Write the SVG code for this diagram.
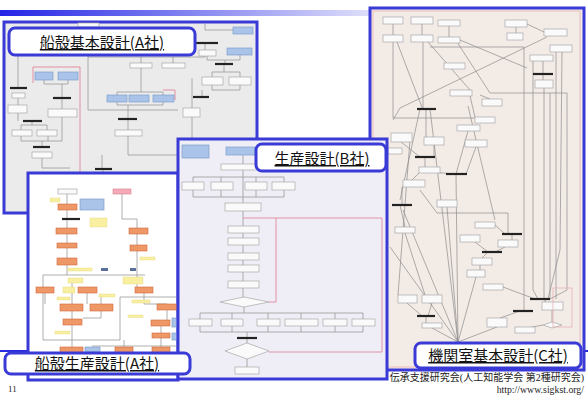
<svg xmlns="http://www.w3.org/2000/svg" width="588" height="396" viewBox="0 0 588 396">
<defs>
<linearGradient id="topbar" x1="0" y1="0" x2="1" y2="0">
<stop offset="0" stop-color="#2424e6"/>
<stop offset="0.62" stop-color="#dcdcfa"/>
<stop offset="0.75" stop-color="#ffffff"/>
</linearGradient>
<style>
.frame{stroke:#3a3ad6;stroke-width:3}
.lab{fill:#fff;stroke:#3a3ad6;stroke-width:3}
.lt{font-family:"Noto Sans CJK JP","Noto Sans CJK SC",sans-serif;font-size:15px;text-decoration:underline;text-anchor:middle;fill:#111}
.w{fill:#fafafa;stroke:#a8a8a8;stroke-width:.7}
.bl{fill:#a9c4e8;stroke:#7f9fcc;stroke-width:.7}
.db{fill:#5a6f9a;stroke:none}
.or{fill:#ee9868;stroke:#cf6a3c;stroke-width:.6}
.ye{fill:#f8f0a0;stroke:#e4d57a;stroke-width:.4}
.pk{fill:#f5aab8;stroke:#d88090;stroke-width:.6}
.ln{fill:none;stroke:#9a9a9a;stroke-width:.8}
.lc{fill:none;stroke:#8c8c8c;stroke-width:.7}
.rd{fill:none;stroke:#e07a90;stroke-width:.8}
.bar{stroke:#222;stroke-width:2.2}
.foot{font-family:"Liberation Serif",serif;fill:#222}
</style>
</defs>
<rect width="588" height="396" fill="#fff"/>
<rect x="0" y="10" width="588" height="6" fill="url(#topbar)"/>
<line x1="0" y1="351" x2="588" y2="351" stroke="#2a2ae0" stroke-width="2"/>
<text x="584" y="381" text-anchor="end" font-family="Liberation Serif,Noto Sans CJK JP,serif" font-size="10" fill="#222">伝承支援研究会(人工知能学会 第2種研究会)</text>

<!-- Panel A: 船殻基本設計 -->
<g id="panelA">
<rect x="4" y="22" width="253" height="191" fill="#ebebeb" class="frame"/>
<g class="ln">
<path d="M18,55 V88"/>
<path d="M88,55 V110 H178"/>
<path d="M88,57 H205 V43"/>
<path d="M233,30 H205 V24"/>
<path d="M207,56 V60 H225 V64"/>
<path d="M240,55 V60 H225"/>
<path d="M224,64 V72 H212 V77 M224,72 H240 V77"/>
<path d="M212,85 V90 H240 V85 M202,90 V97"/>
<path d="M192,78 V97 M192,97 V108 M192,117 V213"/>
<path d="M141,57 V63 M173,57 V63 M141,68 V92"/>
<path d="M117,95 V92 H163 V95"/>
<path d="M117,102 V105 H163 V102 M128,105 V119 M128,119 V130"/>
<path d="M128,136 V155 H178"/>
<path d="M102,155 V169 M103,169 V213"/>
<path d="M44,80 V84 H68 V80 M62,84 V98 M62,98 V109"/>
<path d="M18,98 V105 M18,113 V121"/>
<path d="M32,121 V125 H21 V130 M32,125 H47 V130"/>
<path d="M21,136 V141 H48 V136 M42,141 V147 M62,117 V141 H48"/>
<path d="M42,158 V168 H70"/>
</g>
<path class="rd" d="M33,83 V67 H80 V213"/>
<path class="rd" d="M163,90 H175 V100"/>
<rect class="w" x="78" y="23" width="21" height="4"/>
<rect class="bl" x="233" y="27" width="20" height="7"/>
<rect class="w" x="199" y="50" width="17" height="6"/>
<rect class="bl" x="227" y="48" width="25" height="7"/>
<rect class="w" x="202" y="77" width="21" height="8"/>
<rect class="w" x="229" y="77" width="22" height="8"/>
<rect class="w" x="183" y="108" width="17" height="9"/>
<rect class="w" x="130" y="63" width="22" height="5"/>
<rect class="w" x="162" y="63" width="23" height="5"/>
<rect class="bl" x="35" y="72" width="18" height="8"/>
<rect class="bl" x="58" y="72" width="20" height="8"/>
<rect class="w" x="48" y="109" width="29" height="8"/>
<rect class="w" x="12" y="93" width="13" height="5"/>
<rect class="w" x="8" y="105" width="19" height="8"/>
<rect class="w" x="12" y="130" width="20" height="6"/>
<rect class="w" x="37" y="130" width="20" height="6"/>
<rect class="w" x="32" y="152" width="20" height="6"/>
<rect class="bl" x="107" y="95" width="20" height="7"/>
<rect class="bl" x="129" y="95" width="20" height="7"/>
<rect class="bl" x="153" y="95" width="21" height="7"/>
<rect class="w" x="115" y="130" width="27" height="6"/>
<g class="bar">
<line x1="196" y1="43" x2="218" y2="43"/>
<line x1="215" y1="64" x2="233" y2="64"/>
<line x1="193" y1="97" x2="209" y2="97"/>
<line x1="10" y1="88" x2="27" y2="88"/>
<line x1="53" y1="98" x2="71" y2="98"/>
<line x1="23" y1="121" x2="42" y2="121"/>
<line x1="33" y1="147" x2="50" y2="147"/>
<line x1="118" y1="119" x2="137" y2="119"/>
<line x1="95" y1="169" x2="112" y2="169"/>
</g>
</g>

<!-- Panel C: 機関室基本設計 -->
<g id="panelC">
<rect x="370" y="8" width="214" height="362" fill="#f3ebe6" class="frame"/>
<rect x="373" y="11" width="207" height="356" fill="none" stroke="#ebbcbc" stroke-width="1"/>
<g class="lc">
<path d="M393,24 V35 M422,24 V35 M449,25 V37 M516,27 V33 M527,24 L544,32"/>
<path d="M393,42 V118 H475"/>
<path d="M397,42 L423,110"/>
<path d="M423,42 V109"/>
<path d="M428,42 L470,90 M480,95 L490,99"/>
<path d="M430,47 H524 V311"/>
<path d="M547,37 L400,108 L393,120"/>
<path d="M457,42 L490,93 H567 V290 L550,299"/>
<path d="M460,40 L527,68"/>
<path d="M533,60 V290 L538,299"/>
<path d="M543,60 V74 M543,74 V80 M544,88 V299"/>
<path d="M550,93 V299"/>
<path d="M556,52 V299"/>
<path d="M562,52 L560,250 L548,299"/>
<path d="M426,109 V137 M420,109 L400,200"/>
<path d="M430,109 L458,342"/>
<path d="M401,142 L420,157 M434,145 V157 M425,157 V167"/>
<path d="M430,172 L456,174 M420,172 L412,180"/>
<path d="M456,174 L458,342"/>
<path d="M468,131 L456,174 M476,147 L466,174"/>
<path d="M402,187 V205 M400,205 L405,227 M405,233 L425,295"/>
<path d="M447,207 L458,342"/>
<path d="M420,190 L437,213 H508 V234"/>
<path d="M495,225 L505,234 M512,234 V240"/>
<path d="M475,242 L488,252 M505,247 L495,252 M488,252 L482,258"/>
<path d="M480,265 V270 M476,277 L458,342"/>
<path d="M503,287 L535,299"/>
<path d="M545,299 V302 M552,310 V322 M543,325 L532,327"/>
<path d="M520,311 L500,318 M497,327 L458,342"/>
<path d="M407,303 L422,316 M432,303 L428,316 M426,316 V323 M432,328 L458,342"/>
<path d="M403,210 L458,342 M390,247 L458,342 M458,342 L458,370 M458,342 L440,370 M458,342 L480,370"/>
<path d="M410,140 L398,295"/>
<path d="M470,96 L475,117 M468,106 L495,220"/>
</g>
<g class="w">
<rect x="383" y="17" width="20" height="7"/>
<rect x="411" y="17" width="22" height="7"/>
<rect x="438" y="20" width="22" height="6"/>
<rect x="505" y="20" width="22" height="7"/>
<rect x="507" y="33" width="16" height="7"/>
<rect x="544" y="29" width="23" height="7"/>
<rect x="383" y="35" width="20" height="7"/>
<rect x="411" y="35" width="22" height="7"/>
<rect x="438" y="37" width="22" height="6"/>
<rect x="550" y="45" width="22" height="7"/>
<rect x="530" y="55" width="23" height="6"/>
<rect x="535" y="80" width="18" height="8"/>
<rect x="444" y="63" width="21" height="6"/>
<rect x="450" y="90" width="22" height="6"/>
<rect x="482" y="99" width="20" height="7"/>
<rect x="475" y="117" width="20" height="6"/>
<rect x="457" y="125" width="23" height="6"/>
<rect x="391" y="133" width="21" height="9"/>
<rect x="465" y="140" width="22" height="7"/>
<rect x="424" y="137" width="20" height="8"/>
<rect x="388" y="148" width="14" height="6"/>
<rect x="419" y="167" width="21" height="6"/>
<rect x="403" y="180" width="22" height="7"/>
<rect x="437" y="200" width="20" height="7"/>
<rect x="395" y="227" width="20" height="6"/>
<rect x="475" y="222" width="20" height="6"/>
<rect x="460" y="235" width="20" height="7"/>
<rect x="498" y="240" width="20" height="7"/>
<rect x="472" y="258" width="20" height="7"/>
<rect x="467" y="270" width="18" height="7"/>
<rect x="483" y="284" width="20" height="6"/>
<rect x="398" y="295" width="19" height="8"/>
<rect x="422" y="295" width="20" height="8"/>
<rect x="542" y="302" width="21" height="8"/>
<rect x="422" y="323" width="20" height="5"/>
<rect x="487" y="318" width="20" height="9"/>
<rect x="515" y="327" width="20" height="6"/>
<polygon points="543,325 552,322 562,325 552,328"/>
</g>
<rect x="553" y="288" width="19" height="39" fill="none" stroke="#e6a8b0" stroke-width=".7"/>
<g class="bar">
<line x1="533" y1="74" x2="553" y2="74"/>
<line x1="417" y1="109" x2="436" y2="109"/>
<line x1="415" y1="157" x2="435" y2="157"/>
<line x1="446" y1="174" x2="467" y2="174"/>
<line x1="392" y1="205" x2="412" y2="205"/>
<line x1="502" y1="234" x2="522" y2="234"/>
<line x1="482" y1="252" x2="502" y2="252"/>
<line x1="530" y1="299" x2="550" y2="299"/>
<line x1="513" y1="311" x2="533" y2="311"/>
<line x1="417" y1="316" x2="435" y2="316"/>
</g>
</g>

<!-- Panel A2: 船殻生産設計 -->
<g id="panelA2">
<rect x="28" y="173" width="150" height="207" fill="#fff" class="frame"/>
<g class="ln">
<path d="M67,194 V204 M67,210 V219 M67,219 V228 M67,234 V243 M67,248 V258 M67,265 V275"/>
<path d="M122,194 V219 H137 V228 M137,234 V245 M137,251 V287"/>
<path d="M43,275 H145 M43,275 V340 H120 V297 H177"/>
<path d="M45,292 V304 M72,283 V304 M87,293 V304 M101,297 V304"/>
<path d="M72,311 V319 M101,311 V318 H83"/>
<path d="M144,293 V304 H167 M167,310 V320 M161,326 V333"/>
<path d="M72,325 V347 M124,340 V347 M161,338 V347"/>
<path d="M92,346 H178"/>
</g>
<rect class="w" x="58" y="189" width="19" height="5"/>
<rect class="pk" x="113" y="189" width="18" height="5"/>
<rect class="ye" x="50" y="198" width="10" height="4"/>
<rect class="or" x="58" y="204" width="19" height="6"/>
<rect class="bl" x="80" y="199" width="24" height="11"/>
<rect class="ye" x="90" y="218" width="17" height="9"/>
<rect class="or" x="56" y="228" width="21" height="6"/>
<rect class="or" x="129" y="228" width="19" height="6"/>
<rect class="or" x="57" y="243" width="20" height="5"/>
<rect class="or" x="130" y="245" width="17" height="6"/>
<rect class="ye" x="140" y="257" width="15" height="3"/>
<rect class="or" x="57" y="258" width="20" height="7"/>
<rect class="ye" x="68" y="268" width="24" height="3"/>
<rect class="db" x="101" y="268" width="7" height="3"/>
<rect class="db" x="130" y="268" width="6" height="3"/>
<rect class="ye" x="68" y="278" width="15" height="5"/>
<rect class="ye" x="123" y="277" width="20" height="7"/>
<rect class="or" x="36" y="287" width="18" height="6"/>
<rect class="ye" x="63" y="287" width="12" height="6"/>
<rect class="or" x="78" y="287" width="19" height="6"/>
<rect class="or" x="135" y="287" width="18" height="6"/>
<rect class="ye" x="57" y="297" width="13" height="3"/>
<rect class="ye" x="99" y="294" width="16" height="3"/>
<rect class="ye" x="132" y="300" width="18" height="3"/>
<rect class="or" x="60" y="304" width="23" height="7"/>
<rect class="or" x="90" y="304" width="23" height="7"/>
<rect class="or" x="157" y="304" width="20" height="6"/>
<rect class="ye" x="128" y="315" width="15" height="2.5"/>
<rect class="or" x="63" y="319" width="19" height="6"/>
<rect class="or" x="151" y="320" width="19" height="6"/>
<rect class="bl" x="172" y="318" width="5" height="9"/>
<rect class="ye" x="55" y="331" width="15" height="3"/>
<rect class="or" x="152" y="333" width="18" height="5"/>
<rect class="bl" x="172" y="333" width="5" height="7"/>
<rect class="or" x="60" y="347" width="23" height="6"/>
<rect class="bl" x="85" y="347" width="15" height="5"/>
<rect class="or" x="115" y="347" width="18" height="6"/>
<rect class="or" x="152" y="347" width="18" height="6"/>
<line class="bar" x1="62" y1="219" x2="80" y2="219"/>
</g>

<!-- Panel B: 生産設計 -->
<g id="panelB">
<rect x="178" y="139" width="209" height="240" fill="#efeef6" class="frame"/>
<g class="ln">
<path d="M243,155 V164 M243,170 V204 M243,211 V226 M243,233 V238 M243,245 V253 M243,260 V265 M243,272 V281 M243,288 V297"/>
<path d="M193,177 H284 M193,177 V182 M221,177 V182 M256,177 V182 M284,177 V182"/>
<path d="M193,190 V197 H284 V190 M221,190 V197 M256,190 V197"/>
<path d="M244,307 V313 M200,313 H363 M200,313 V319 M232,313 V319 M268,313 V319 M301,313 V319 M335,313 V319 M363,313 V319"/>
<path d="M200,326 V332 H363 V326 M232,326 V332 M268,326 V332 M301,326 V332 M335,326 V332"/>
<path d="M247,332 V338 M247,338 V343 M247,359 V367"/>
</g>
<path class="rd" d="M243,218 H382 V352 H269 M276,218 V302 H269"/>
<rect class="bl" x="182" y="145" width="27" height="13"/>
<rect class="bl" x="226" y="147" width="32" height="8"/>
<g class="w">
<rect x="221" y="164" width="43" height="6"/>
<rect x="182" y="182" width="22" height="8"/>
<rect x="211" y="182" width="22" height="8"/>
<rect x="245" y="182" width="22" height="8"/>
<rect x="272" y="182" width="23" height="8"/>
<rect x="225" y="203" width="36" height="8"/>
<rect x="228" y="226" width="31" height="7"/>
<rect x="228" y="238" width="31" height="7"/>
<rect x="228" y="253" width="31" height="7"/>
<rect x="228" y="265" width="31" height="7"/>
<rect x="228" y="281" width="31" height="7"/>
<polygon points="220,302 244,297 269,302 244,307"/>
<rect x="189" y="319" width="23" height="7"/>
<rect x="221" y="319" width="22" height="7"/>
<rect x="257" y="319" width="23" height="7"/>
<rect x="285" y="319" width="33" height="7"/>
<rect x="323" y="319" width="24" height="7"/>
<rect x="352" y="319" width="23" height="7"/>
<polygon points="225,351 247,343 269,351 247,359"/>
<rect x="235" y="367" width="24" height="7"/>
</g>
<line class="bar" x1="237" y1="338" x2="257" y2="338"/>
</g>

<!-- Title labels -->
<g id="labelA">
<rect class="lab" x="9" y="28" width="186" height="27" rx="6"/>
<text class="lt" x="102" y="48">船殻基本設計(A社)</text>
</g>
<g id="labelA2">
<rect class="lab" x="5" y="353" width="185" height="21" rx="6"/>
<text class="lt" x="97" y="369">船殻生産設計(A社)</text>
</g>
<g id="labelB">
<rect class="lab" x="256" y="144" width="130" height="27" rx="6"/>
<text class="lt" x="322" y="164">生産設計(B社)</text>
</g>
<g id="labelC">
<rect class="lab" x="415" y="343" width="166" height="25" rx="6"/>
<text class="lt" x="498" y="361">機関室基本設計(C社)</text>
</g>

<text class="foot" x="8" y="392" font-size="9">11</text>
<text class="foot" x="584" y="393" font-size="9.8" text-anchor="end">http://www.sigkst.org/</text>
</svg>
